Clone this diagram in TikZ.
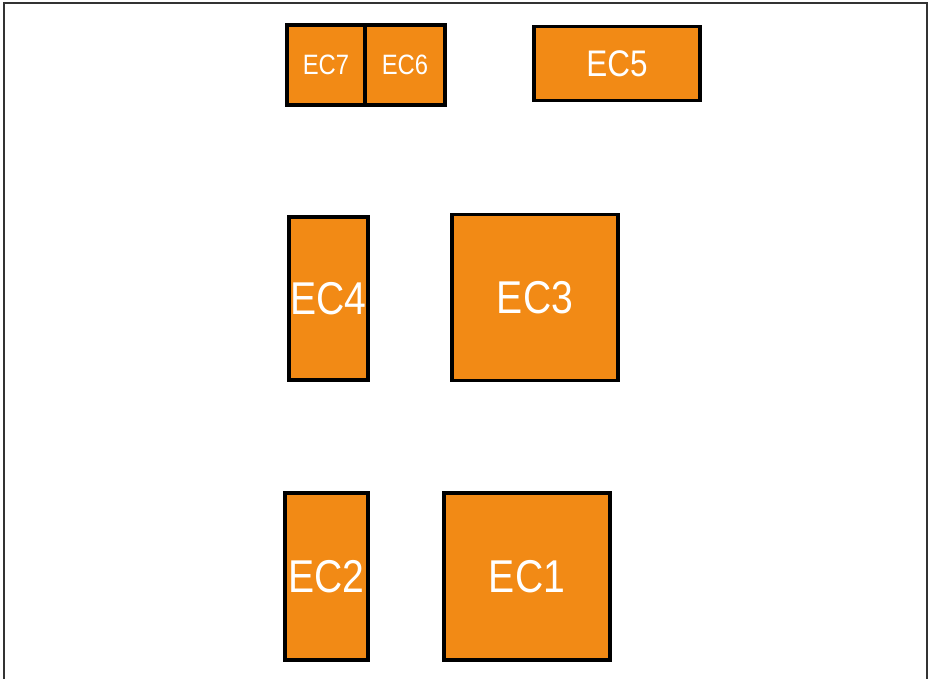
\documentclass[tikz,border=0pt]{standalone}
\usepackage{fontspec}
\setsansfont{Liberation Sans}[FakeStretch=0.85]
\definecolor{ecorange}{RGB}{242,138,21}
\definecolor{framegray}{RGB}{51,51,51}
\tikzset{
    ecbox/.style={draw=black, line width=3.6pt, fill=ecorange, text=white,
        inner sep=0pt, font=\sffamily, rectangle}
}
\begin{document}
\begin{tikzpicture}[x=1pt, y=-1pt]
            \useasboundingbox (0,0) rectangle (929,679);
            \draw[framegray, line width=2pt] (4,690) -- (4,3) -- (927,3) -- (927,690);

            % top row
            \foreach \name/\cx/\cy/\w/\h/\fs/\lbl in {ec7/326/65/78/80/28/EC7, ec6/405/65/80/80/28/EC6, ec5/617/63.5/166/74/37/EC5}{
                \node[ecbox, minimum width=\w pt, minimum height=\h pt] (\name) at (\cx,\cy) {\fontsize{\fs}{\fs}\selectfont \lbl};
            }

            % middle and bottom rows
            \foreach \name/\cx/\cy/\w/\h/\lbl in {ec4/328.5/298.5/79/163/EC4, ec3/535/297.5/166/166/EC3, ec2/326.5/576.5/83/167/EC2, ec1/527/576.5/166/167/EC1}{
                \node[ecbox, minimum width=\w pt, minimum height=\h pt] (\name) at (\cx,\cy) {\fontsize{46}{46}\selectfont \lbl};
            }
        \end{tikzpicture}
\end{document}
